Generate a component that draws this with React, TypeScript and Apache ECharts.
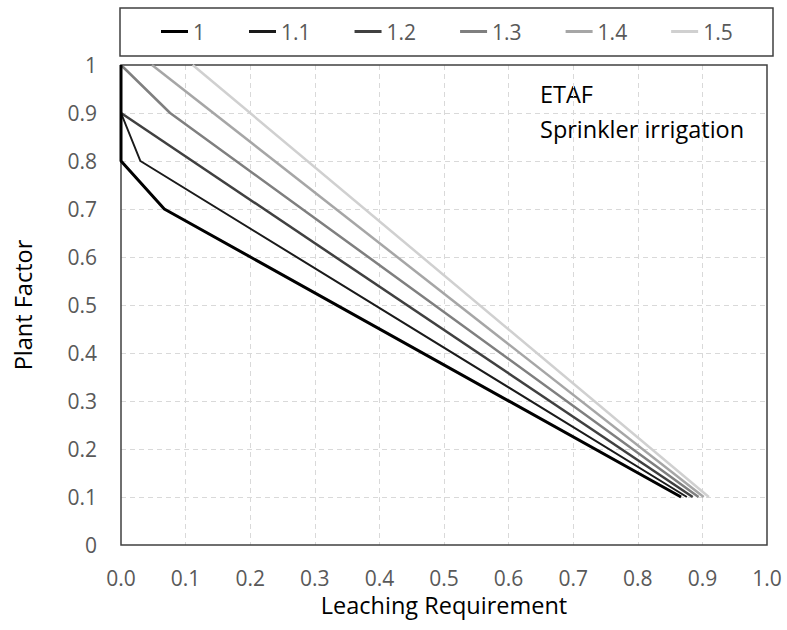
import React, { useEffect, useRef } from "react";
import * as echarts from "echarts";

const seriesNames = ["1", "1.1", "1.2", "1.3", "1.4", "1.5"];
const lr1 = [0, 0, 0.067, 0.867];
const pf1 = [1, 0.8, 0.7, 0.1];
const lr11 = [0, 0.03, 0.876];
const pf11 = [0.9, 0.8, 0.1];
const lr12 = [0, 0.885];
const pf12 = [0.9, 0.1];
const lr13 = [0, 0.076, 0.894];
const pf13 = [1, 0.9, 0.1];
const lr14 = [0.048, 0.902];
const pf14 = [1, 0.1];
const lr15 = [0.111, 0.91];
const pf15 = [1, 0.1];
const xTicks = [0, 0.1, 0.2, 0.3, 0.4, 0.5, 0.6, 0.7, 0.8, 0.9, 1.0];

const allLR = [lr1, lr11, lr12, lr13, lr14, lr15];
const allPF = [pf1, pf11, pf12, pf13, pf14, pf15];
const colors = ["#000000", "#1a1a1a", "#404040", "#7f7f7f", "#a6a6a6", "#d0d0d0"];
const widths = [3, 2, 2.5, 2.5, 2.5, 2.5];

const FONT = "'Open Sans', sans-serif";

export default function App() {
  const ref = useRef<HTMLDivElement>(null);
  useEffect(() => {
    document.body.style.margin = "0";
    const chart = echarts.init(ref.current!, null, { renderer: "svg" });
    chart.setOption({
      animation: false,
      backgroundColor: "#ffffff",
      textStyle: { fontFamily: FONT },
      grid: {
        left: 121,
        right: 20,
        top: 65,
        bottom: 85,
        show: true,
        borderColor: "#404040",
        borderWidth: 1.5,
        containLabel: false,
        z: 5,
      },
      legend: {
        data: seriesNames,
        left: 156,
        top: 16,
        icon: "rect",
        itemWidth: 27,
        itemHeight: 3,
        itemGap: 44,
        textStyle: { fontFamily: FONT, fontSize: 21, color: "#595959" },
      },
      graphic: [
        {
          type: "rect",
          shape: { x: 120, y: 8, width: 653, height: 48 },
          style: { fill: "none", stroke: "#404040", lineWidth: 1.5 },
        },
        {
          type: "text",
          x: 540,
          y: 94,
          style: { text: "ETAF", font: `23.5px ${FONT}`, fill: "#000000", verticalAlign: "middle" },
        },
        {
          type: "text",
          x: 540,
          y: 129,
          style: {
            text: "Sprinkler irrigation",
            font: `23.5px ${FONT}`,
            fill: "#000000",
            verticalAlign: "middle",
          },
        },
      ],
      xAxis: {
        type: "value",
        min: 0,
        max: 1,
        interval: 0.1,
        name: "Leaching Requirement",
        nameLocation: "middle",
        nameGap: 47,
        nameTextStyle: { fontFamily: FONT, fontSize: 23.5, color: "#000000", lineHeight: 24 },
        axisLine: { show: false },
        axisTick: { show: false },
        axisLabel: {
          margin: 23,
          fontFamily: FONT,
          fontSize: 21,
          lineHeight: 20,
          color: "#595959",
          formatter: (v: number) => {
            const t = xTicks.find((k) => Math.abs(k - v) < 1e-6);
            return (t !== undefined ? t : v).toFixed(1);
          },
        },
        splitLine: {
          show: true,
          showMinLine: false,
          showMaxLine: false,
          lineStyle: { color: "#d9d9d9", type: [5, 4], width: 1 },
        },
      },
      yAxis: {
        type: "value",
        min: 0,
        max: 1,
        interval: 0.1,
        name: "Plant Factor",
        nameLocation: "middle",
        nameGap: 86,
        nameTextStyle: { fontFamily: FONT, fontSize: 23.5, color: "#000000" },
        axisLine: { show: false },
        axisTick: { show: false },
        axisLabel: {
          margin: 24,
          fontFamily: FONT,
          fontSize: 21,
          color: "#595959",
          formatter: (v: number) => String(Math.round(v * 10) / 10),
        },
        splitLine: {
          show: true,
          showMinLine: false,
          showMaxLine: false,
          lineStyle: { color: "#d9d9d9", type: [5, 4], width: 1 },
        },
      },
      series: seriesNames.map((name, i) => ({
        name,
        type: "line",
        data: allLR[i].map((x, j) => [x, allPF[i][j]]),
        showSymbol: false,
        symbol: "none",
        color: colors[i],
        lineStyle: { color: colors[i], width: widths[i] },
        z: 10 - i,
      })),
    });
    return () => chart.dispose();
  }, []);
  return <div ref={ref} style={{ width: 787, height: 630 }} />;
}
